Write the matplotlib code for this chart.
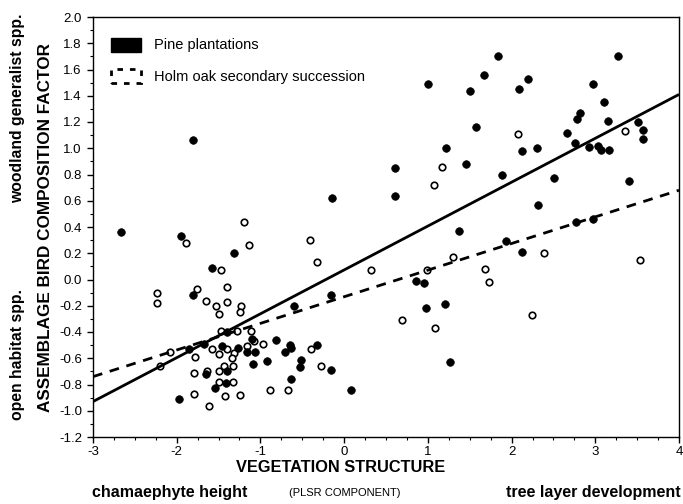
import matplotlib
matplotlib.use("Agg")
import matplotlib.pyplot as plt
from matplotlib.patches import Patch
from matplotlib.ticker import MultipleLocator, FormatStrFormatter

plt.rcParams['font.family'] = ['Liberation Sans', 'DejaVu Sans']
plt.rcParams['axes.unicode_minus'] = False

# Pine plantations (filled circles)
pine_x = [0.61, 0.61, 1.00, 1.22, 1.37, 1.46, 1.50, 1.58, 1.67, 1.84, 1.88, 2.09, 2.12, 2.20, 2.30, 2.32,
          2.51, 2.66, 2.76, 2.78, 2.82, 2.92, 2.97, 3.03, 3.07, 3.11, 3.15, 3.16, 3.27, 3.40, 3.51, 3.57, 3.57,
          1.93, 2.12, 2.77, 2.97, 0.86, 0.95, 0.98, 1.21, 1.26,
          -2.66, -1.95, -1.81, -0.14, -1.31, -1.58, -1.80, -0.60, -0.16, -1.40, -1.10, -1.46, -1.27, -1.16,
          -1.07, -0.81, -0.65, -0.64, -0.71, -0.33, -1.85, -1.68, -0.92, -1.09, -0.51, -0.53, -0.16, -1.40,
          -1.65, -0.63, -1.41, -1.54, -1.97, 0.08]
pine_y = [0.85, 0.64, 1.49, 1.00, 0.37, 0.88, 1.44, 1.16, 1.56, 1.70, 0.80, 1.45, 0.98, 1.53, 1.00, 0.57,
          0.77, 1.12, 1.04, 1.22, 1.27, 1.01, 1.49, 1.02, 0.99, 1.35, 1.21, 0.99, 1.70, 0.75, 1.20, 1.14, 1.07,
          0.29, 0.21, 0.44, 0.46, -0.01, -0.03, -0.22, -0.19, -0.63,
          0.36, 0.33, 1.06, 0.62, 0.20, 0.09, -0.12, -0.20, -0.12, -0.40, -0.45, -0.51, -0.52, -0.55,
          -0.55, -0.46, -0.50, -0.52, -0.55, -0.50, -0.53, -0.49, -0.62, -0.64, -0.61, -0.67, -0.69, -0.70,
          -0.72, -0.76, -0.79, -0.83, -0.91, -0.84]

# Holm oak secondary succession (open circles)
holm_x = [1.17, 1.07, 2.08, 3.35, 1.30, 0.99, 1.68, 1.73, 2.39, 0.69, 1.08, 2.24, 3.53, 0.32,
          -1.20, -1.89, -1.14, -0.41, -0.32, -1.47, -2.23, -2.23, -1.76, -1.40, -1.65, -1.40, -1.53, -1.23,
          -1.49, -1.24, -1.47, -1.28, -1.11, -1.08, -0.97, -1.16, -0.39, -1.58, -1.40, -1.31, -1.78, -1.49,
          -1.34, -2.08, -2.20, -1.79, -1.33, -1.44, -1.64, -1.50, -1.49, -1.33, -1.79, -1.42, -1.24, -1.61,
          -0.89, -0.67, -0.28]
holm_y = [0.86, 0.72, 1.11, 1.13, 0.17, 0.07, 0.08, -0.02, 0.20, -0.31, -0.37, -0.27, 0.15, 0.07,
          0.44, 0.28, 0.26, 0.30, 0.13, 0.07, -0.10, -0.18, -0.07, -0.06, -0.16, -0.17, -0.20, -0.20,
          -0.26, -0.25, -0.39, -0.39, -0.39, -0.47, -0.49, -0.51, -0.53, -0.53, -0.53, -0.56, -0.59, -0.57,
          -0.60, -0.55, -0.66, -0.71, -0.66, -0.66, -0.70, -0.70, -0.78, -0.78, -0.87, -0.89, -0.88, -0.96,
          -0.84, -0.84, -0.66]

# Fitted regression lines (end points)
line_x = [-3, 4]
pine_line_y = [-0.93, 1.41]
holm_line_y = [-0.74, 0.68]

legend_labels = ['Pine plantations', 'Holm oak secondary succession']

fig = plt.figure(figsize=(6.83, 5.04), dpi=100)
ax = fig.add_axes([93/683, 1-437/504, 586/683, 420/504])

ax.scatter(holm_x, holm_y, s=22, facecolors='white', edgecolors='black', linewidths=1.2, zorder=3)
ax.scatter(pine_x, pine_y, s=30, facecolors='black', edgecolors='black', linewidths=0.5, zorder=3)
ax.plot(line_x, pine_line_y, color='black', lw=2.0, solid_capstyle='butt', zorder=4)
ax.plot(line_x, holm_line_y, color='black', lw=2.0, dashes=(3.5, 2.8), zorder=4)

ax.set_xlim(-3, 4)
ax.set_ylim(-1.2, 2.0)
ax.xaxis.set_major_locator(MultipleLocator(1))
ax.xaxis.set_minor_locator(MultipleLocator(0.25))
ax.yaxis.set_major_locator(MultipleLocator(0.2))
ax.yaxis.set_minor_locator(MultipleLocator(0.1))
ax.yaxis.set_major_formatter(FormatStrFormatter('%.1f'))
ax.xaxis.set_major_formatter(FormatStrFormatter('%d'))
ax.tick_params(which='major', direction='out', length=4, width=1, labelsize=9.5)
ax.tick_params(axis='x', which='major', pad=2.5)
ax.tick_params(axis='y', which='major', pad=4)
ax.tick_params(which='minor', direction='out', length=2, width=0.8)
for s in ax.spines.values():
    s.set_linewidth(1.0)

handles = [Patch(facecolor='black', edgecolor='black'),
           Patch(facecolor='none', edgecolor='black', linestyle=(0, (2, 2.5)), linewidth=2)]
ax.legend(handles, legend_labels, loc='upper left', bbox_to_anchor=(0.021, 0.965), borderaxespad=0,
          frameon=False, fontsize=10.5, handlelength=2.05, handleheight=1.1, handletextpad=0.9,
          labelspacing=1.15)

fig.text(0.499, 1-468/504, 'VEGETATION STRUCTURE', ha='center', va='center', fontsize=11.8, fontweight='bold')
fig.text(0.505, 1-493/504, '(PLSR COMPONENT)', ha='center', va='center', fontsize=8)
fig.text(0.134, 1-493/504, 'chamaephyte height', ha='left', va='center', fontsize=11.5, fontweight='bold')
fig.text(0.996, 1-493/504, 'tree layer development', ha='right', va='center', fontsize=11.5, fontweight='bold')

fig.text(0.067, 1-228/504, 'ASSEMBLAGE BIRD COMPOSITION FACTOR', ha='center', va='center', rotation=90,
         fontsize=12.3, fontweight='bold')
fig.text(0.026, 1-108/504, 'woodland generalist spp.', ha='center', va='center', rotation=90,
         fontsize=11.3, fontweight='bold')
fig.text(0.026, 1-354/504, 'open habitat spp.', ha='center', va='center', rotation=90,
         fontsize=11.3, fontweight='bold')

fig.savefig('out.png', dpi=100)
